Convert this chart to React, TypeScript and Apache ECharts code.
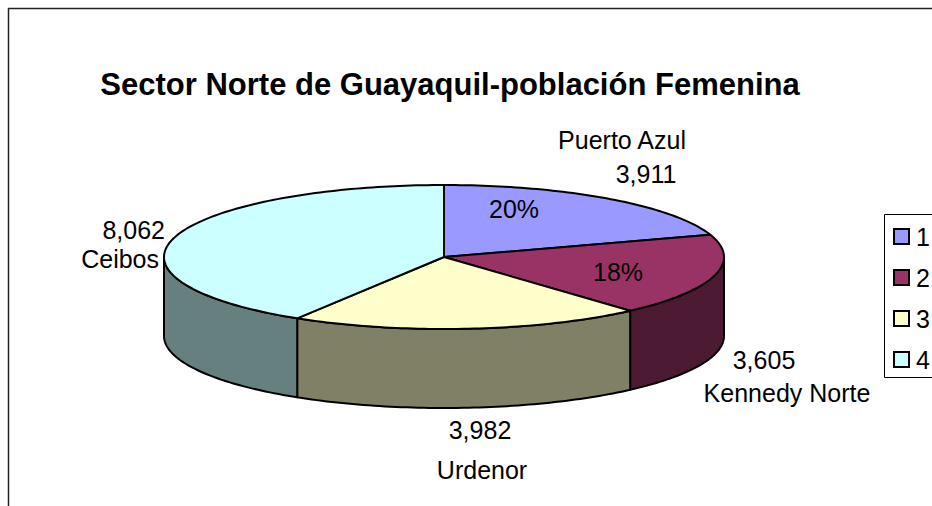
import React, { useEffect, useRef } from "react";
import * as echarts from "echarts";

const legendNames = ["1", "2", "3", "4"];
const categories = ["Puerto Azul", "Kennedy Norte", "Urdenor", "Ceibos"];
const values = [3911, 3605, 3982, 8062];
const topColors = ["#9999FF", "#993366", "#FFFFCC", "#CCFFFF"];
const sideColors = ["#4D4D80", "#4D1A33", "#808066", "#668080"];
const titleText = "Sector Norte de Guayaquil-población Femenina";

const FONT = "'Liberation Sans', Arial, sans-serif";
const CX = 444, CY = 257, RX = 280, RY = 72, DEPTH = 79;
const total = values.reduce((a, b) => a + b, 0);

const pt = (t: number, dy = 0): number[] => [CX + RX * Math.sin(t), CY - RY * Math.cos(t) + dy];
const arc = (a: number, b: number, dy = 0): number[][] => {
  const n = Math.max(2, Math.ceil(Math.abs(b - a) / 0.02));
  const out: number[][] = [];
  for (let i = 0; i <= n; i++) out.push(pt(a + ((b - a) * i) / n, dy));
  return out;
};

function sliceRenderer(index: number) {
  return (_params: any, api: any) => {
    const start = values.slice(0, index).reduce((a, b) => a + b, 0);
    const t0 = (start / total) * Math.PI * 2;
    const t1 = t0 + (api.value(0) / total) * Math.PI * 2;
    const children: any[] = [];
    const a = Math.max(t0, Math.PI / 2);
    const b = Math.min(t1, (Math.PI * 3) / 2);
    if (b > a) {
      children.push({
        type: "polygon",
        shape: { points: [...arc(a, b, 0), ...arc(b, a, DEPTH)] },
        style: { fill: sideColors[index], stroke: "#000", lineWidth: 2, lineJoin: "round" },
      });
    }
    children.push({
      type: "polygon",
      shape: { points: [[CX, CY], ...arc(t0, t1)] },
      style: { fill: topColors[index], stroke: "#000", lineWidth: 2, lineJoin: "round" },
    });
    return { type: "group", children };
  };
}

const txt = (text: string, x: number, y: number, align = "center", extra: any = {}) => ({
  type: "text",
  x,
  y,
  z: 20,
  style: {
    text,
    fill: "#000",
    font: `25px ${FONT}`,
    textAlign: align,
    textVerticalAlign: "middle",
    ...extra,
  },
});

const fmt = (v: number) => v.toLocaleString("en-US");
const pct = (v: number) => `${Math.round((v / total) * 100)}%`;

export default function App() {
  const ref = useRef<HTMLDivElement>(null);
  useEffect(() => {
    const chart = echarts.init(ref.current!, null, { renderer: "svg" });
    chart.setOption({
      animation: false,
      backgroundColor: "#fff",
      legend: {
        orient: "vertical",
        left: 893,
        top: 224,
        padding: 0,
        itemWidth: 15,
        itemHeight: 15,
        itemGap: 16,
        icon: "rect",
        textStyle: { fontFamily: "Liberation Sans", fontSize: 25, color: "#000", padding: [0, 0, 0, 2] },
        data: legendNames.map((name, i) => ({
          name,
          itemStyle: { color: topColors[i], borderColor: "#000", borderWidth: 2 },
        })),
      },
      series: legendNames.map((name, i) => ({
        type: "custom",
        name,
        coordinateSystem: "none",
        itemStyle: { color: topColors[i] },
        renderItem: sliceRenderer(i),
        data: [[values[i]]],
      })),
      graphic: {
        elements: [
          { type: "line", shape: { x1: 8.5, y1: 8, x2: 8.5, y2: 506 }, style: { stroke: "#222", lineWidth: 1.5 } },
          { type: "line", shape: { x1: 8, y1: 8.5, x2: 932, y2: 8.5 }, style: { stroke: "#222", lineWidth: 1.5 } },
          { type: "rect", shape: { x: 884.5, y: 214.5, width: 60, height: 163 }, style: { fill: "transparent", stroke: "#000", lineWidth: 1 } },
          txt(titleText, 450, 84, "center", { font: `bold 31px ${FONT}` }),
          txt(categories[0], 622, 140),
          txt(fmt(values[0]), 646, 174),
          txt(fmt(values[3]), 165, 230, "right"),
          txt(categories[3], 159, 259, "right"),
          txt(fmt(values[1]), 764, 360),
          txt(categories[1], 787, 393),
          txt(fmt(values[2]), 480, 430),
          txt(categories[2], 482, 470),
          txt(pct(values[0]), 514, 209),
          txt(pct(values[1]), 618, 272),
        ],
      },
    });
    return () => chart.dispose();
  }, []);
  return (
    <div
      ref={ref}
      style={{ position: "fixed", left: 0, top: 0, width: 932, height: 506, background: "#fff" }}
    />
  );
}
